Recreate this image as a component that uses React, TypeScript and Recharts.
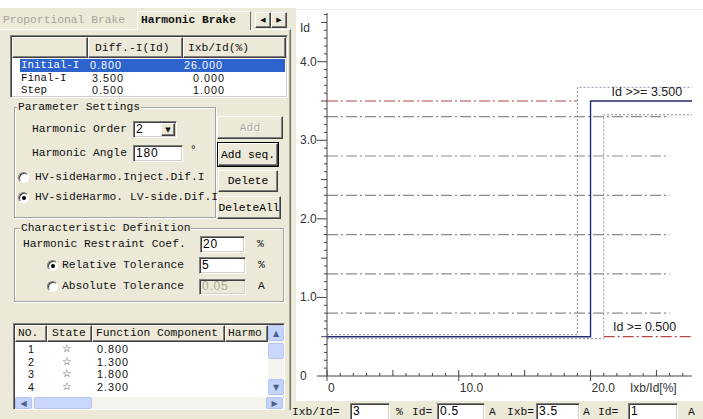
import React from 'react';
import { LineChart, Line, XAxis, YAxis, ReferenceDot } from 'recharts';

// ---------- chart data ----------
const testCurrents = [0.8, 1.3, 1.8, 2.3, 2.8, 3.3];
const testRangeX = [0, 26];
const characteristic = [
  { x: 0, y: 0.5 }, { x: 20, y: 0.5 }, { x: 20, y: 3.5 }, { x: 27.7, y: 3.5 },
];
const outerBand = [
  { x: 0, y: 0.525 }, { x: 19, y: 0.525 }, { x: 19, y: 3.675 }, { x: 27.7, y: 3.675 },
];
const innerBand = [
  { x: 0, y: 0.475 }, { x: 21, y: 0.475 }, { x: 21, y: 3.325 }, { x: 27.7, y: 3.325 },
];
const highSetLine = [{ x: 0, y: 3.5 }, { x: 19, y: 3.5 }];
const lowSetLine = [{ x: 21, y: 0.5 }, { x: 27.7, y: 0.5 }];
const xTicks = [0, 1, 2, 3, 4, 5, 6, 7, 8, 9, 10, 11, 12, 13, 14, 15, 16, 17, 18, 19, 20, 21, 22, 23, 24, 25, 26, 27];
const xTickLabels: Record<number, string> = { 0: '0', 10: '10.0', 20: '20.0' };
const yTicks = [
  0, 0.1, 0.2, 0.3, 0.4, 0.5, 0.6, 0.7, 0.8, 0.9, 1, 1.1, 1.2, 1.3, 1.4, 1.5, 1.6, 1.7, 1.8, 1.9,
  2, 2.1, 2.2, 2.3, 2.4, 2.5, 2.6, 2.7, 2.8, 2.9, 3, 3.1, 3.2, 3.3, 3.4, 3.5, 3.6, 3.7, 3.8, 3.9,
  4, 4.1, 4.2, 4.3, 4.4, 4.5, 4.6,
];
const yTickLabels: Record<string, string> = { '0': '0', '1': '1.0', '2': '2.0', '3': '3.0', '4': '4.0' };
const thresholdLabels = [
  { x: 21.6, y: 3.62, text: 'Id >>= 3.500' },
  { x: 21.7, y: 0.62, text: 'Id >= 0.500' },
];

// ---------- panel data ----------
const gridHeader = ['Diff.-I(Id)', 'Ixb/Id(%)'];
const gridRows = [
  { name: 'Initial-I', id: '0.800', ratio: '26.000' },
  { name: 'Final-I', id: '3.500', ratio: '0.000' },
  { name: 'Step', id: '0.500', ratio: '1.000' },
];
const listHeader = ['NO.', 'State', 'Function Component', 'Harmo'];
const listRows = [
  { no: '1', comp: '0.800' },
  { no: '2', comp: '1.300' },
  { no: '3', comp: '1.800' },
  { no: '4', comp: '2.300' },
];

const BEIGE = '#ECE9D8';
const MONO = '"Liberation Mono", "DejaVu Sans Mono", monospace';
const SANS = '"Liberation Sans", Arial, sans-serif';

const T = ({ x, y, children, style, lh = 14 }: any) => (
  <div style={{ position: 'absolute', left: x, top: y - lh / 2, height: lh, lineHeight: lh + 'px', whiteSpace: 'pre', ...style }}>{children}</div>
);
const R = ({ x, y, w, h, style, children }: any) => (
  <div style={{ position: 'absolute', left: x, top: y, width: w, height: h, boxSizing: 'border-box', ...style }}>{children}</div>
);
const sunken = {
  background: '#fff',
  borderStyle: 'solid', borderWidth: 1,
  borderColor: '#808080 #fff #fff #808080',
  boxShadow: 'inset 1px 1px 0 #404040, inset -1px -1px 0 #D4D0C8',
};
const raised = {
  background: BEIGE,
  borderStyle: 'solid', borderWidth: 1,
  borderColor: '#fff #404040 #404040 #fff',
  boxShadow: 'inset -1px -1px 0 #808080',
};
const Btn = ({ x, y, w, h, label, disabled, def }: any) => (
  <R x={x} y={y} w={w} h={h} style={{ ...raised, ...(def ? { outline: '1px solid #000' } : {}), display: 'flex', alignItems: 'center', justifyContent: 'center', color: disabled ? '#ACA899' : '#000', textShadow: disabled ? '1px 1px 0 #fff' : 'none' }}>{label}</R>
);
const Input = ({ x, y, w, h, value, disabled }: any) => (
  <R x={x} y={y} w={w} h={h} style={{ ...sunken, background: disabled ? BEIGE : '#fff', color: disabled ? '#ACA899' : '#000', fontFamily: SANS, fontSize: 12, paddingLeft: 2, lineHeight: (h - 3) + 'px', letterSpacing: 0.8 }}>{value}</R>
);
const Radio = ({ x, y, on }: any) => (
  <R x={x} y={y} w={11} h={11} style={{ borderRadius: '50%', background: '#fff', borderStyle: 'solid', borderWidth: 1, borderColor: '#808080 #fff #fff #808080', boxShadow: 'inset 1px 1px 0 #404040' }}>
    {on ? <div style={{ position: 'absolute', left: 3, top: 3, width: 4, height: 4, borderRadius: '50%', background: '#000' }} /> : null}
  </R>
);
const Group = ({ x, y, w, h, title, tx }: any) => (
  <>
    <R x={x} y={y} w={w} h={h} style={{ border: '1px solid #A0A0A0', boxShadow: 'inset 1px 1px 0 #fff, 1px 1px 0 #fff' }} />
    <T x={tx} y={y} style={{ background: BEIGE, padding: '0 1px' }}>{title}</T>
  </>
);
const sbBtn = { background: '#C3D3FD', border: '1px solid #B5C6EE', borderRadius: 2, color: '#4D6185', fontSize: 8, fontFamily: '"DejaVu Sans"', display: 'flex', alignItems: 'center', justifyContent: 'center' };

const YTick = (props: any) => {
  const { y, payload } = props;
  const v = payload.value;
  const key = String(Math.round(v * 10) / 10);
  const isMajor = Math.abs(v - Math.round(v)) < 1e-6;
  const isHalf = Math.abs(v * 2 - Math.round(v * 2)) < 1e-6;
  const len = isMajor ? 10 : isHalf ? 6 : 3;
  return (
    <g>
      <line x1={31 - len} x2={31} y1={y} y2={y} stroke="#444" strokeWidth={1} />
      {isMajor && yTickLabels[key] ? (
        <text x={4} y={y} dy={4} fontSize={12} fontFamily={SANS} fill="#333" textAnchor="start">{yTickLabels[key]}</text>
      ) : null}
    </g>
  );
};

const XTick = (props: any) => {
  const { x, payload } = props;
  const v = payload.value;
  const base = 376;
  const isMajor = v % 10 === 0;
  const isMid = v % 5 === 0;
  return (
    <g>
      <line x1={x} x2={x} y1={base - (isMid ? 6 : 3)} y2={base + (isMajor ? 5 : 0)} stroke="#444" strokeWidth={1} />
      {xTickLabels[v] !== undefined ? (
        <text x={x + 1} y={base + 16} fontSize={12} fontFamily={SANS} fill="#333" textAnchor="start">{xTickLabels[v]}</text>
      ) : null}
    </g>
  );
};

export default function App() {
  return (
    <div style={{ position: 'absolute', left: 0, top: 0, width: 703, height: 419, overflow: 'hidden', background: '#fff', fontFamily: MONO, fontSize: 11.3, color: '#111' }}>
      {/* left panel */}
      <R x={0} y={8} w={296} h={411} style={{ background: BEIGE }} />
      <R x={290} y={401} w={413} h={18} style={{ background: BEIGE }} />
      {/* tab pane */}
      <R x={0} y={29} w={291} h={381} style={{ borderTop: '1px solid #fff', borderRight: '1px solid #716F64', boxShadow: 'inset -1px 0 0 #ACA899' }} />
      <R x={137} y={11} w={114} h={19} style={{ background: BEIGE, borderTop: '1px solid #fff', borderLeft: '1px solid #fff', borderRight: '1px solid #716F64' }} />
      <T x={3} y={20} style={{ color: '#A7A59A' }}>Proportional Brake</T>
      <T x={141} y={20} style={{ fontWeight: 'bold' }}>Harmonic Brake</T>
      <R x={255} y={12} w={16} h={16} style={{ ...raised, fontFamily: '"DejaVu Sans"', fontSize: 7, display: 'flex', alignItems: 'center', justifyContent: 'center' }}>◀</R>
      <R x={271} y={12} w={16} h={16} style={{ ...raised, fontFamily: '"DejaVu Sans"', fontSize: 7, display: 'flex', alignItems: 'center', justifyContent: 'center' }}>▶</R>

      {/* parameter grid */}
      <R x={10} y={35} w={278} h={63} style={{ ...sunken }} />
      <R x={12} y={37} w={76} h={21} style={{ ...raised }} />
      <R x={88} y={37} w={95} h={21} style={{ ...raised }} />
      <R x={183} y={37} w={103} h={21} style={{ ...raised }} />
      <T x={95} y={48}>{gridHeader[0]}</T>
      <T x={188} y={48}>{gridHeader[1]}</T>
      <R x={20} y={59} w={265} h={12.5} style={{ background: '#2C63CC' }} />
      {gridRows.map((r, i) => (
        <React.Fragment key={r.name}>
          <T lh={12} x={21} y={65.2 + i * 12.6} style={{ color: i === 0 ? '#fff' : '#111', fontSize: 10.8 }}>{r.name}</T>
          <T lh={12} x={i === 0 ? 90 : 92} y={65.2 + i * 12.6} style={{ color: i === 0 ? '#fff' : '#111', fontFamily: SANS, fontSize: 10.8, letterSpacing: 1 }}>{r.id}</T>
          <T lh={12} x={i === 0 ? 184 : 193} y={65.2 + i * 12.6} style={{ color: i === 0 ? '#fff' : '#111', fontFamily: SANS, fontSize: 10.8, letterSpacing: 1 }}>{r.ratio}</T>
        </React.Fragment>
      ))}

      {/* parameter settings */}
      <Group x={14} y={107} w={202} h={111} title="Parameter Settings" tx={17} />
      <T x={32} y={129}>Harmonic Order</T>
      <Input x={133} y={121} w={44} h={17} value="2" />
      <R x={161} y={123} w={14} h={13} style={{ ...raised, fontFamily: '"DejaVu Sans"', fontSize: 7, display: 'flex', alignItems: 'center', justifyContent: 'center' }}>▼</R>
      <T x={32} y={153}>Harmonic Angle</T>
      <Input x={133} y={145} w={50} h={17} value="180" />
      <T x={190} y={150}>°</T>
      <Radio x={18} y={172} on={false} />
      <T x={35} y={177}>HV-sideHarmo.Inject.Dif.I</T>
      <Radio x={18} y={192} on={true} />
      <T x={35} y={197}>HV-sideHarmo. LV-side.Dif.I</T>
      <Btn x={217} y={116} w={66} h={23} label="Add" disabled />
      <Btn x={218} y={143} w={60} h={23} label="Add seq." def />
      <Btn x={218} y={170} w={60} h={22} label="Delete" />
      <Btn x={217} y={196} w={64} h={23} label="DeleteAll" />

      {/* characteristic definition */}
      <Group x={14} y={228} w={270} h={74} title="Characteristic Definition" tx={20} />
      <T x={23} y={244}>Harmonic Restraint Coef.</T>
      <Input x={200} y={236} w={45} h={17} value="20" />
      <T x={257} y={244}>%</T>
      <Radio x={47} y={260} on={true} />
      <T x={62} y={265}>Relative Tolerance</T>
      <Input x={199} y={257} w={47} h={17} value="5" />
      <T x={258} y={265}>%</T>
      <Radio x={47} y={281} on={false} />
      <T x={62} y={286}>Absolute Tolerance</T>
      <Input x={199} y={279} w={47} h={16} value="0.05" disabled />
      <T x={258} y={286}>A</T>

      {/* test list */}
      <R x={13} y={323} w={272} h={87} style={{ ...sunken }} />
      <R x={15} y={325} w={32} h={17} style={{ ...raised }} />
      <R x={47} y={325} w={45} h={17} style={{ ...raised }} />
      <R x={92} y={325} w={133} h={17} style={{ ...raised }} />
      <R x={225} y={325} w={43} h={17} style={{ ...raised }} />
      <T x={18} y={333}>{listHeader[0]}</T>
      <T x={52} y={333}>{listHeader[1]}</T>
      <T x={96} y={333}>{listHeader[2]}</T>
      <T x={228} y={333}>{listHeader[3]}</T>
      {listRows.map((r, i) => (
        <React.Fragment key={r.no}>
          <T lh={12} x={28} y={349 + i * 12.5} style={{ fontFamily: SANS, fontSize: 10.8 }}>{r.no}</T>
          <T lh={12} x={62} y={349 + i * 12.5} style={{ fontFamily: '"DejaVu Sans"', fontSize: 10.8, color: '#333' }}>☆</T>
          <T lh={12} x={97} y={349 + i * 12.5} style={{ fontFamily: SANS, fontSize: 10.8, letterSpacing: 1 }}>{r.comp}</T>
        </React.Fragment>
      ))}
      {/* vertical scrollbar */}
      <R x={268} y={325} w={16} h={71} style={{ background: '#F4F3EE' }} />
      <R x={268} y={325} w={16} h={16} style={sbBtn}>▲</R>
      <R x={268} y={343} w={16} h={16} style={{ background: '#C9D8FC', border: '1px solid #B5C6EE', borderRadius: 2 }} />
      <R x={268} y={379} w={16} h={16} style={sbBtn}>▼</R>
      {/* horizontal scrollbar */}
      <R x={15} y={397} w={269} h={12} style={{ background: '#F4F3EE' }} />
      <R x={15} y={397} w={17} h={12} style={sbBtn}>◀</R>
      <R x={34} y={397} w={58} h={12} style={{ background: '#C9D8FC', border: '1px solid #B5C6EE', borderRadius: 2 }} />
      <R x={266} y={397} w={17} h={12} style={sbBtn}>▶</R>

      {/* chart */}
      <div style={{ position: 'absolute', left: 296, top: 0, width: 407, height: 401, background: '#fff' }}>
        <LineChart width={407} height={401} margin={{ top: 13, right: 11, bottom: 0, left: 0 }}>
          <XAxis dataKey="x" type="number" domain={[0, 27.7]} ticks={xTicks} interval={0} allowDataOverflow height={25} tickLine={false} axisLine={{ stroke: '#444' }} tick={<XTick />} />
          <YAxis dataKey="y" type="number" domain={[0, 4.62]} ticks={yTicks} interval={0} allowDataOverflow width={31} tickLine={false} axisLine={{ stroke: '#444' }} tick={<YTick />} />
          {testCurrents.map((v) => (
            <Line key={'t' + v} data={[{ x: testRangeX[0], y: v }, { x: testRangeX[1], y: v }]} dataKey="y" stroke="#8C8C8C" strokeWidth={1.2} strokeDasharray="11 3 2 3" dot={false} isAnimationActive={false} />
          ))}
          <Line data={highSetLine} dataKey="y" stroke="#B84545" strokeWidth={1.2} strokeDasharray="11 3 2 3" dot={false} isAnimationActive={false} />
          <Line data={lowSetLine} dataKey="y" stroke="#B84545" strokeWidth={1.2} strokeDasharray="11 3 2 3" dot={false} isAnimationActive={false} />
          <Line data={outerBand} dataKey="y" stroke="#8A8AA6" strokeWidth={1} strokeDasharray="2 2" dot={false} isAnimationActive={false} />
          <Line data={innerBand} dataKey="y" stroke="#8A8AA6" strokeWidth={1} strokeDasharray="2 2" dot={false} isAnimationActive={false} />
          <Line data={characteristic} dataKey="y" stroke="#262A6E" strokeWidth={1.4} dot={false} isAnimationActive={false} />
          {thresholdLabels.map((l) => (
            <ReferenceDot key={l.text} x={l.x} y={l.y} r={0} ifOverflow="visible"
              shape={(p: any) => (
                <text x={p.cx} y={p.cy} dy={4} fontSize={12.5} fontFamily={SANS} fill="#222" textAnchor="start">{l.text}</text>
              )} />
          ))}
        </LineChart>
      </div>
      <R x={296} y={9} w={407} h={1} style={{ background: '#ECECE6' }} />
      <T x={300} y={28} style={{ fontFamily: SANS, fontSize: 12, color: '#333' }}>Id</T>
      <T x={630} y={388} style={{ fontFamily: SANS, fontSize: 12, color: '#333' }}>Ixb/Id[%]</T>

      {/* bottom strip */}
      <T x={292} y={412}>Ixb/Id=</T>
      <Input x={350} y={403} w={40} h={18} value="3" />
      <T x={396} y={412}>%</T>
      <T x={412} y={412}>Id=</T>
      <Input x={437} y={403} w={48} h={18} value="0.5" />
      <T x={489} y={412}>A</T>
      <T x={507} y={412}>Ixb=</T>
      <Input x={536} y={403} w={44} h={18} value="3.5" />
      <T x={583} y={412}>A</T>
      <T x={598} y={412}>Id=</T>
      <Input x={628} y={403} w={50} h={18} value="1" />
      <T x={688} y={412}>A</T>
    </div>
  );
}
